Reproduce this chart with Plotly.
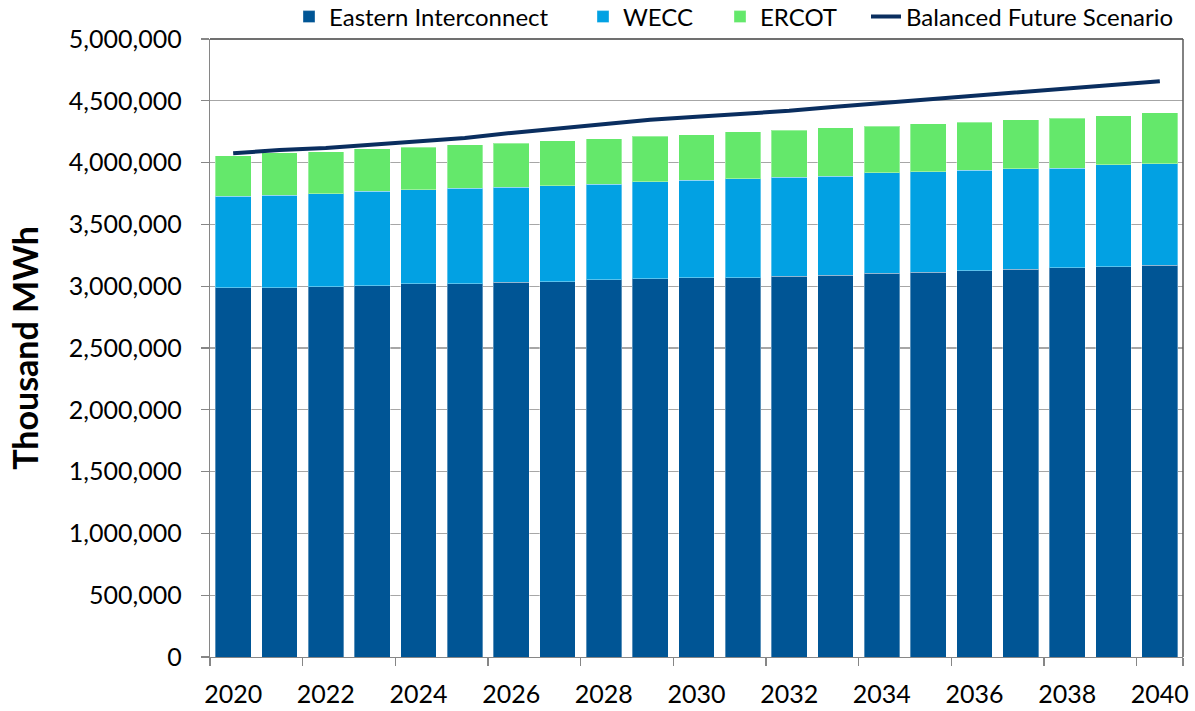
import plotly.graph_objects as go

years = [str(y) for y in range(2020, 2041)]
tick_years = [str(y) for y in range(2020, 2041, 2)]

eastern = [2986000, 2986000, 2995000, 3003000, 3019000, 3019000, 3030000, 3038000,
           3051000, 3059000, 3070000, 3070000, 3081000, 3089000, 3103000, 3113000,
           3127000, 3138000, 3149000, 3157000, 3170000]
wecc = [740000, 748000, 752000, 766000, 763000, 774000, 771000, 774000, 774000,
        788000, 788000, 800000, 802000, 802000, 813000, 811000, 813000, 811000,
        806000, 824000, 820000]
ercot = [330000, 344000, 342000, 344000, 342000, 352000, 355000, 365000, 366000,
         365000, 369000, 381000, 379000, 389000, 378000, 392000, 386000, 399000,
         404000, 400000, 415000]
balanced = [4075000, 4102000, 4118000, 4145000, 4172000, 4199000, 4240000, 4277000,
            4312000, 4347000, 4371000, 4393000, 4419000, 4452000, 4481000, 4514000,
            4546000, 4575000, 4599000, 4627000, 4659000]

FONT = "Lato"
edge = dict(color="rgba(255,255,255,0.35)", width=1)

fig = go.Figure()
fig.add_trace(go.Bar(x=years, y=eastern, name="Eastern Interconnect",
                     marker=dict(color="#005595", line=edge), legend="legend",
                     showlegend=True))
fig.add_trace(go.Bar(x=years, y=wecc, name="WECC",
                     marker=dict(color="#02A1E3", line=edge), legend="legend2",
                     showlegend=True))
fig.add_trace(go.Bar(x=years, y=ercot, name="ERCOT",
                     marker=dict(color="#64E86B", line=edge), legend="legend3",
                     showlegend=True))
fig.add_trace(go.Scatter(x=years, y=balanced, name="Balanced Future Scenario",
                         mode="lines", line=dict(color="#0A2E5F", width=4),
                         legend="legend4", showlegend=True))

leg_common = dict(orientation="h", xref="container", yref="container",
                  yanchor="middle", y=1 - 17 / 711, xanchor="left",
                  font=dict(family=FONT, size=24, color="#000"),
                  bgcolor="rgba(0,0,0,0)", borderwidth=0)

fig.update_layout(
    width=1195, height=711,
    showlegend=True,
    margin=dict(l=210, r=12, t=39, b=54, autoexpand=False),
    paper_bgcolor="white", plot_bgcolor="white",
    barmode="stack", bargap=0.23,
    font=dict(family=FONT, color="#000"),
    legend=dict(x=289 / 1195, **leg_common),
    legend2=dict(x=583 / 1195, **leg_common),
    legend3=dict(x=720 / 1195, **leg_common),
    legend4=dict(x=866 / 1195, **leg_common),
    xaxis=dict(type="category", tickmode="array", tickvals=tick_years,
               ticktext=tick_years, tickson="boundaries", tickangle=0,
               ticks="outside", ticklen=8, tickcolor="#868686", tickwidth=1.3,
               showline=True, linecolor="#868686", linewidth=1.3,
               showgrid=False, automargin=False,
               tickfont=dict(family=FONT, size=25, color="#000"),
               ticklabelstandoff=15),
    yaxis=dict(range=[0, 5000000], dtick=500000, tickformat=",",
               ticks="outside", ticklen=8, tickcolor="#868686", tickwidth=1.3,
               showline=True, linecolor="#868686", linewidth=1.3,
               showgrid=True, gridcolor="#A6A6A6", gridwidth=1.3,
               zeroline=False, automargin=False,
               tickfont=dict(family=FONT, size=25, color="#000"),
               ticklabelstandoff=14,
               title=dict(text="<b>Thousand MWh</b>",
                          font=dict(family=FONT, size=34, color="#000"),
                          standoff=20)),
)

# plot-area border on top and right
fig.add_shape(type="line", xref="paper", yref="paper", x0=0, x1=1, y0=1, y1=1,
              line=dict(color="#404040", width=1.5))
fig.add_shape(type="line", xref="paper", yref="paper", x0=1, x1=1, y0=0, y1=1,
              line=dict(color="#595959", width=1.5))

fig.write_html("out.html",
               config={"displayModeBar": False, "staticPlot": True},
               post_script="document.body.style.margin='0';document.body.style.overflow='hidden';")
